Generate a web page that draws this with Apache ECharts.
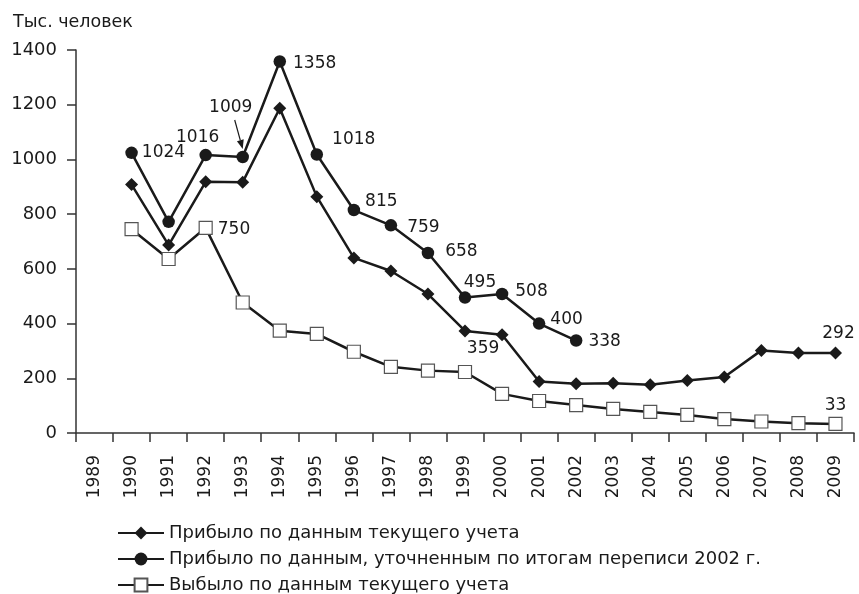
<!DOCTYPE html>
<html>
<head>
<meta charset="utf-8">
<script src="https://cdn.jsdelivr.net/npm/echarts@6/dist/echarts.min.js"></script>
<style>
html,body{margin:0;padding:0;background:#fff;}
#chart{width:859px;height:594px;}
</style>
</head>
<body>
<div id="chart"></div>
<script>
// ---- data ----
const years = ['1989','1990','1991','1992','1993','1994','1995','1996','1997','1998','1999',
               '2000','2001','2002','2003','2004','2005','2006','2007','2008','2009'];
const arrivedCurrent = [null, 908, 687, 918, 917, 1187, 864, 640, 592, 508, 373,
                        359, 188, 180, 182, 176, 192, 205, 302, 292, 292];
const arrivedCensus = [null, 1024, 772, 1016, 1009, 1358, 1018, 815, 759, 658, 495,
                       508, 400, 338, null, null, null, null, null, null, null];
const departedCurrent = [null, 745, 636, 750, 477, 374, 362, 297, 242, 228, 223,
                         143, 117, 102, 88, 77, 66, 51, 42, 36, 33];
const seriesNames = [
  'Прибыло по данным текущего учета',
  'Прибыло по данным, уточненным по итогам переписи 2002 г.',
  'Выбыло по данным текущего учета'
];
const yAxisTitle = 'Тыс. человек';
const yMin = 0, yMax = 1400, yStep = 200;

// ---- label placement (style) ----
const FONT = 'DejaVu Sans';
const INK = '#1a1a1a';
const currentLabels = {
  '2000': {position: 'bottom', distance: 0, offset: [-19, -1]},
  '2009': {position: 'top', distance: 5, offset: [3, 0]}
};
const censusLabels = {
  '1990': {position: 'right', distance: 4, offset: [0, 0]},
  '1992': {position: 'top', distance: 3, offset: [-8, 0]},
  '1993': {position: 'top', distance: 35, offset: [-12, 0]},
  '1994': {position: 'right', distance: 7, offset: [0, 2]},
  '1995': {position: 'right', distance: 9, offset: [0, -15]},
  '1996': {position: 'right', distance: 5, offset: [0, -8]},
  '1997': {position: 'right', distance: 10, offset: [0, 2]},
  '1998': {position: 'right', distance: 11, offset: [0, -1]},
  '1999': {position: 'top', distance: 0, offset: [15, 0]},
  '2000': {position: 'right', distance: 7, offset: [0, -2]},
  '2001': {position: 'right', distance: 5, offset: [0, -4]},
  '2002': {position: 'right', distance: 6, offset: [0, 1]}
};
const departedLabels = {
  '1992': {position: 'right', distance: 5, offset: [0, 2]},
  '2009': {position: 'top', distance: 3, offset: [0, 0]}
};

function withLabels(values, spec) {
  return values.map(function (v, i) {
    const s = spec[years[i]];
    if (v == null || !s) return v;
    return {value: v, label: Object.assign({show: true}, s)};
  });
}

const labelBase = {show: false, color: INK, fontFamily: FONT, fontSize: 17, formatter: '{c}'};

const chart = echarts.init(document.getElementById('chart'), null, {renderer: 'canvas'});
const option = {
  animation: false,
  backgroundColor: '#fff',
  textStyle: {fontFamily: FONT, color: INK},
  title: {
    text: yAxisTitle, left: 8, top: 8,
    textStyle: {fontFamily: FONT, fontSize: 17.5, fontWeight: 'normal', color: INK}
  },
  grid: {left: 76, right: 5, top: 50, bottom: 161, containLabel: false},
  xAxis: {
    type: 'category',
    data: years,
    boundaryGap: true,
    axisLine: {lineStyle: {color: '#333', width: 1.5}},
    axisTick: {show: true, length: 9, inside: false, alignWithLabel: false, lineStyle: {color: '#333', width: 1.5}},
    axisLabel: {rotate: 90, interval: 0, margin: 22, fontSize: 17, fontFamily: FONT, color: INK},
    splitLine: {show: false}
  },
  yAxis: {
    type: 'value',
    min: yMin, max: yMax, interval: yStep,
    axisLine: {show: true, lineStyle: {color: '#333', width: 1.5}},
    axisTick: {show: true, length: 9, inside: false, lineStyle: {color: '#333', width: 1.5}},
    axisLabel: {margin: 19, fontSize: 18, fontFamily: FONT, color: INK,
                formatter: function (v) { return String(v); }},
    splitLine: {show: false}
  },
  legend: {
    orient: 'vertical',
    left: 117, top: 524,
    padding: 0,
    itemWidth: 46, itemHeight: 16, itemGap: 8,
    textStyle: {fontFamily: FONT, fontSize: 18, color: INK, lineHeight: 18},
    data: seriesNames
  },
  series: [
    {
      name: seriesNames[0], type: 'line',
      data: withLabels(arrivedCurrent, currentLabels),
      symbol: 'diamond', symbolSize: 13,
      lineStyle: {color: INK, width: 2.5},
      itemStyle: {color: INK, borderColor: INK, borderWidth: 0},
      label: labelBase, z: 2
    },
    {
      name: seriesNames[1], type: 'line',
      data: withLabels(arrivedCensus, censusLabels),
      symbol: 'circle', symbolSize: 12.5,
      lineStyle: {color: INK, width: 2.5},
      itemStyle: {color: INK, borderColor: INK, borderWidth: 0},
      label: labelBase, z: 3
    },
    {
      name: seriesNames[2], type: 'line',
      data: withLabels(departedCurrent, departedLabels),
      symbol: 'rect', symbolSize: 13,
      lineStyle: {color: INK, width: 2.5},
      itemStyle: {color: '#fff', borderColor: '#555', borderWidth: 1.2},
      label: labelBase, z: 4
    }
  ]
};
chart.setOption(option);

// arrow pointing at the 1993 census value (placed relative to the library-computed point)
const p = chart.convertToPixel({xAxisIndex: 0, yAxisIndex: 0}, ['1993', arrivedCensus[years.indexOf('1993')]]);
const sx = p[0] - 8, sy = p[1] - 37, ex = p[0], ey = p[1] - 8;
const dx = ex - sx, dy = ey - sy, len = Math.sqrt(dx * dx + dy * dy);
const ux = dx / len, uy = dy / len, hl = 9, hw = 3.5;
const bx = ex - ux * hl, by = ey - uy * hl;
chart.setOption({
  graphic: [
    {type: 'line', shape: {x1: sx, y1: sy, x2: bx, y2: by}, style: {stroke: INK, lineWidth: 1.2}, z: 10},
    {type: 'polygon', shape: {points: [[ex, ey], [bx - uy * hw, by + ux * hw], [bx + uy * hw, by - ux * hw]]},
     style: {fill: INK}, z: 10}
  ]
});
</script>
</body>
</html>
